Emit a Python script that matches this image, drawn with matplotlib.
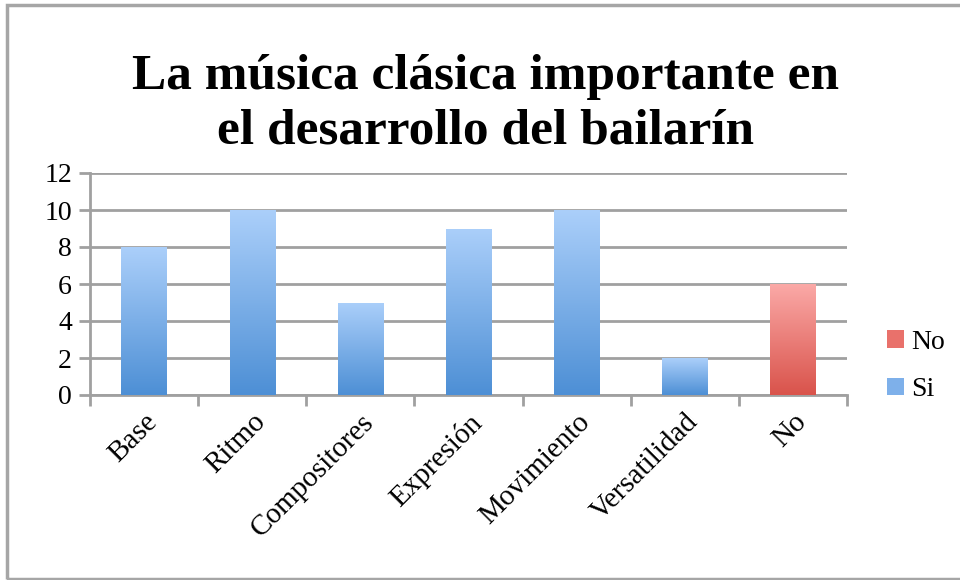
import numpy as np
import matplotlib
matplotlib.use('Agg')
import matplotlib.pyplot as plt
from matplotlib.patches import Rectangle, Patch
from matplotlib.colors import LinearSegmentedColormap

categorias = ['Base', 'Ritmo', 'Compositores', 'Expresión', 'Movimiento', 'Versatilidad', 'No']
si = [8, 10, 5, 9, 10, 2, 0]
no = [0, 0, 0, 0, 0, 0, 6]
titulo = 'La música clásica importante en\nel desarrollo del bailarín'

plt.rcParams['font.family'] = ['Liberation Serif', 'DejaVu Serif']

fig = plt.figure(figsize=(9.6, 5.8), dpi=100)
ax = fig.add_axes([90/960, 1-395/580, (847-90)/960, (395-173)/580])

# borde gris del grafico
fig.patches.append(Rectangle((7/960, 1/580), 1.2, 1-6/580, transform=fig.transFigure,
                             fill=False, edgecolor='#a6a6a6', lw=2.5, zorder=0))

azul = LinearSegmentedColormap.from_list('azul', ['#4d8fd5', '#abcffa'])
rojo = LinearSegmentedColormap.from_list('rojo', ['#d9534b', '#fba9a7'])
grad = np.linspace(0, 1, 256).reshape(-1, 1)

x = np.arange(len(categorias))
ancho = 0.42

def barras_degradado(vals, base, cmap, label):
    bars = ax.bar(x, vals, ancho, bottom=base, color='none', edgecolor='none', label=label)
    for b in bars:
        h = b.get_height()
        if h <= 0:
            continue
        x0, y0 = b.get_x(), b.get_y()
        im = ax.imshow(grad, cmap=cmap, origin='lower', aspect='auto',
                       extent=[x0, x0 + b.get_width(), y0, y0 + h], zorder=3)
        im.set_clip_path(b)
    return bars

barras_degradado(si, [0]*len(si), azul, 'Si')
barras_degradado(no, si, rojo, 'No')

ax.set_xlim(-0.5, len(categorias) - 0.5)
ax.set_ylim(0, 12)
ax.set_yticks(range(0, 13, 2))
ax.set_xticks(np.arange(-0.5, len(categorias), 1))
ax.set_xticklabels([])
ax.set_xticks(x, minor=True)
ax.set_xticklabels(categorias, minor=True, rotation=45, ha='right', rotation_mode='anchor',
                   fontsize=21)
ax.tick_params(axis='x', which='minor', length=0, pad=10)
ax.tick_params(axis='x', which='major', length=8, width=2, color='#a0a0a0')
ax.tick_params(axis='y', length=8, width=2, color='#a0a0a0', labelsize=20, pad=5)
ax.grid(axis='y', color='#a0a0a0', lw=2, zorder=0)
ax.set_axisbelow(True)
for s in ['top', 'right']:
    ax.spines[s].set_visible(False)
for s in ['left', 'bottom']:
    ax.spines[s].set_color('#a0a0a0')
    ax.spines[s].set_linewidth(2)

# leyenda
handles = [Patch(facecolor='#e9716b', label='No'), Patch(facecolor='#7eb0ea', label='Si')]
ax.legend(handles=handles, loc='center left', bbox_to_anchor=(1.02, 0.13), frameon=False,
          fontsize=20, handlelength=0.6, handleheight=0.6, handletextpad=0.25, labelspacing=0.8)

fig.text(485/960, 1-104/580, titulo, ha='center', va='center', fontsize=37,
         fontweight='bold', linespacing=1.25)

fig.savefig('out.png', dpi=100)
